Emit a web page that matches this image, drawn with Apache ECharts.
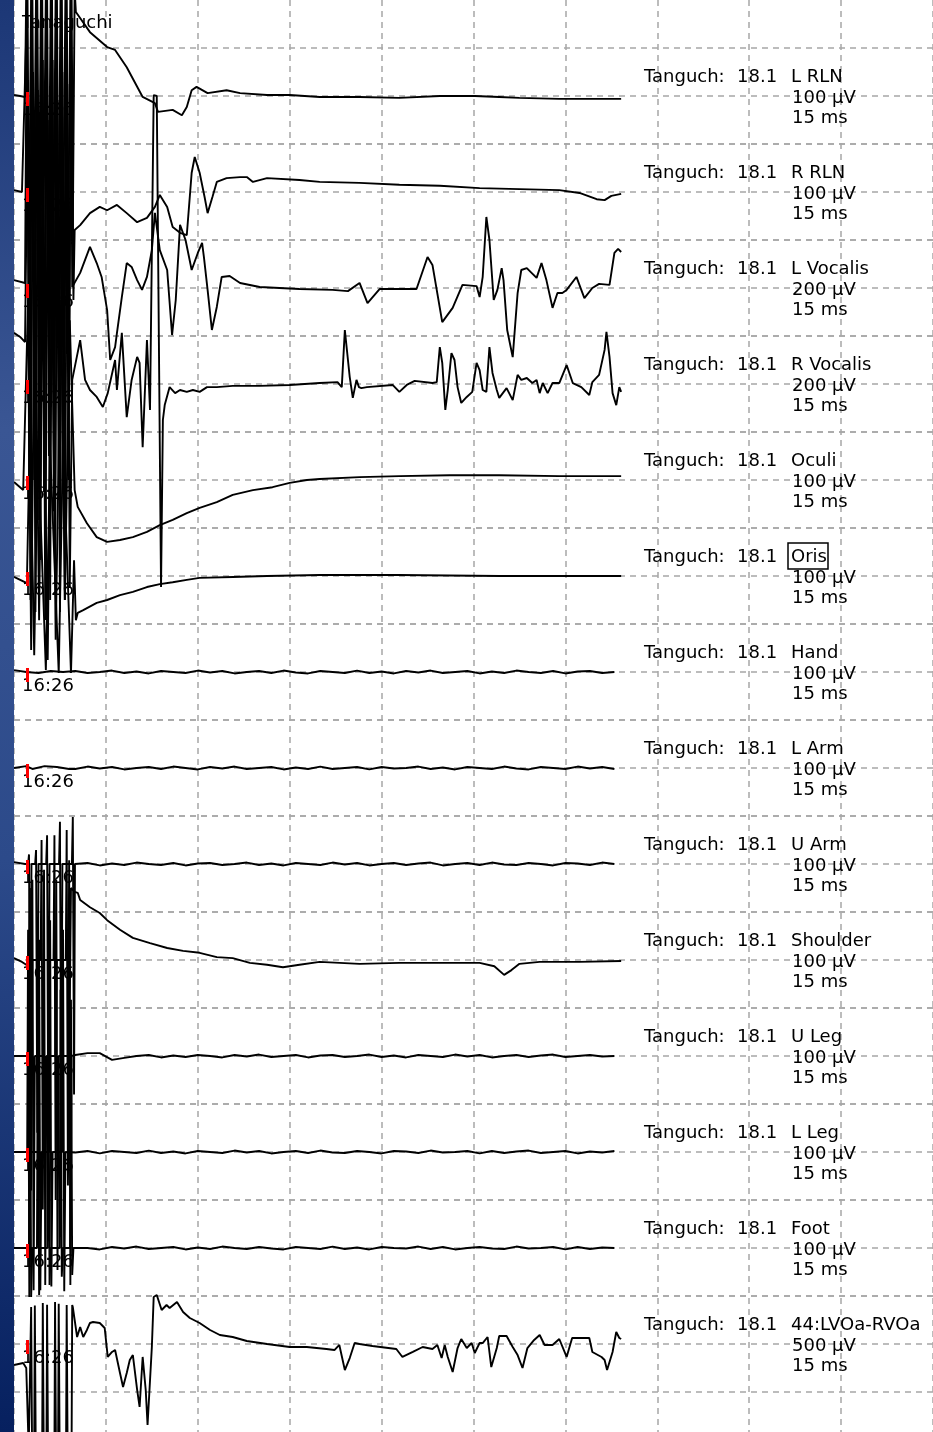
<!DOCTYPE html>
<html><head><meta charset="utf-8">
<script src="https://cdn.jsdelivr.net/npm/echarts@6/dist/echarts.min.js"></script>
<style>html,body{margin:0;padding:0;background:#fff}#c{width:933px;height:1432px}</style>
</head><body><div id="c"></div>
<script>
// ---- labels ----
const PATIENT_NAME = 'Tanguch:';
const PATIENT_ID = '18.1';
const TOP_NAME = 'Tanaguchi';
const TIME_LABEL = '16:26';
const TIMEBASE = '15 ms';
const CHANNEL_NAMES = ['L RLN','R RLN','L Vocalis','R Vocalis','Oculi','Oris','Hand','L Arm','U Arm','Shoulder','U Leg','L Leg','Foot','44:LVOa-RVOa'];
const SENS_UV = [100,100,200,200,100,100,100,100,100,100,100,100,100,500];
const X_TICKS_MS = [0,15,30,45,60,75,90,105,120,135,150];
const STIM_MARK_MS = 2.1;

// ---- traces: [time ms, amplitude µV] ----
const L_RLN = [[0,2],[1.0,0],[1.8,-2],[2.0,221],[2.4,-400],[2.8,221],[3.2,-350],[3.6,221],[4.0,-420],[4.4,221],[4.8,-300],[5.2,221],[5.6,-410],[6.0,221],[6.4,-380],[6.8,221],[7.2,-425],[7.6,221],[8.0,-330],[8.4,221],[8.8,-400],[9.2,221],[9.6,-280],[9.9,221],[10.1,175],[10.4,179],[12.4,133],[15.2,102],[16.5,96],[18.4,60],[21.0,-2],[23.0,-15],[23.5,-33],[25.9,-29],[27.4,-40],[28.2,-23],[29.0,12],[29.8,19],[31.6,6],[34.7,12],[36.9,6],[41.3,2],[45.0,2],[49.9,-2],[56.4,-2],[62.9,-4],[69.5,0],[75.2,0],[79.2,-2],[82.5,-4],[89.0,-6],[95.5,-6],[99.1,-6]];
const R_RLN = [[0,4],[1.3,0],[2.2,421],[2.6,-450],[3.0,421],[3.4,-475],[3.8,421],[4.2,-380],[4.6,421],[5.0,-470],[5.4,421],[5.8,-420],[6.2,421],[6.6,-475],[7.0,421],[7.4,-400],[7.8,421],[8.2,-470],[8.6,421],[9.0,-350],[9.4,421],[9.7,-225],[9.9,-79],[10.8,-69],[12.4,-44],[14.0,-31],[15.2,-38],[16.8,-27],[18.4,-44],[20.1,-63],[21.7,-54],[23.0,-31],[23.8,-6],[25.0,-31],[25.9,-73],[27.1,-85],[28.2,-90],[29.0,40],[29.5,73],[30.3,40],[31.1,-10],[31.6,-44],[32.4,-10],[33.1,21],[34.7,29],[36.9,31],[38.0,31],[39.0,21],[41.3,29],[46.6,25],[49.9,21],[56.4,19],[62.9,15],[69.5,13],[76.0,8],[82.5,6],[89.0,4],[92.3,-2],[95.1,-15],[96.4,-17],[97.5,-8],[99.1,-4]];
const L_VOCALIS = [[0,33],[1.8,21],[2.1,1242],[2.5,-900],[2.9,1242],[3.3,-800],[3.7,1242],[4.1,-967],[4.5,1242],[4.9,-850],[5.3,1242],[5.7,-700],[6.1,1242],[6.5,-930],[6.9,1242],[7.3,-883],[7.7,1242],[8.1,-760],[8.5,1242],[8.9,-800],[9.3,1033],[9.5,4],[10.8,63],[12.4,171],[13.5,104],[14.3,46],[15.2,-92],[15.7,-300],[16.5,-246],[16.8,-188],[17.6,-38],[18.4,104],[19.2,88],[20.1,33],[20.9,-8],[21.7,46],[22.5,158],[23.0,313],[23.8,158],[25.0,75],[25.8,-196],[26.4,-50],[27.1,263],[28.0,200],[29.0,75],[30.0,146],[30.7,188],[31.0,129],[31.6,-8],[32.3,-175],[33.1,-79],[33.9,46],[35.2,50],[36.9,21],[40.1,4],[46.6,-4],[52.0,-8],[54.5,-13],[56.4,21],[57.7,-63],[59.7,-4],[65.7,-4],[67.5,129],[68.3,96],[69.9,-142],[71.6,-83],[73.2,13],[75.5,8],[76.0,-38],[76.5,46],[77.1,296],[77.6,200],[78.3,-50],[78.9,-8],[79.6,83],[79.9,33],[80.5,-175],[81.4,-288],[82.2,-21],[82.8,75],[83.7,83],[85.3,42],[86.1,104],[86.9,33],[87.9,-83],[88.7,-21],[89.5,-21],[90.2,-8],[91.8,46],[93.1,-42],[94.4,0],[95.5,17],[97.2,13],[98.0,146],[98.6,163],[99.1,150]];
const R_VOCALIS = [[0,213],[1.0,196],[1.8,175],[2.3,1267],[2.7,-900],[3.1,1300],[3.5,-950],[3.9,1225],[4.3,-733],[4.7,1350],[5.1,-983],[5.5,1100],[5.9,-900],[6.3,1350],[6.7,-817],[7.1,1183],[7.5,-950],[7.9,1300],[8.3,-900],[8.7,1250],[9.1,-850],[9.5,17],[10.8,183],[11.6,17],[12.4,-25],[13.5,-54],[14.5,-96],[15.3,-38],[16.5,100],[16.8,-25],[17.6,213],[18.4,-138],[19.2,17],[20.1,113],[20.5,88],[21.0,-263],[21.7,183],[22.2,-108],[22.8,1204],[23.3,1200],[24.0,-846],[24.3,-150],[24.6,-88],[25.4,-13],[26.3,-38],[27.1,-25],[28.2,-33],[29.2,-25],[30.3,-33],[31.5,-13],[33.1,-13],[35.7,-8],[40.1,-8],[45.0,-4],[49.9,4],[52.8,8],[53.5,-13],[54.0,225],[54.3,225],[54.8,29],[55.3,-58],[55.9,17],[56.3,-13],[56.7,-17],[57.6,-13],[61.8,-4],[62.9,-33],[64.1,-4],[65.4,13],[68.3,4],[69.0,8],[69.5,154],[69.9,88],[70.4,-108],[70.8,-25],[71.4,129],[71.9,100],[72.4,-13],[73.0,-79],[73.9,-54],[74.8,-33],[75.5,88],[76.0,58],[76.5,-25],[77.1,-33],[77.6,154],[78.1,46],[78.8,-25],[79.2,-58],[80.4,-17],[81.4,-67],[82.2,38],[82.8,17],[83.7,25],[84.6,4],[85.3,17],[85.8,-38],[86.3,4],[87.1,-38],[87.9,4],[89.0,4],[90.2,79],[91.2,4],[92.6,-13],[93.9,-46],[94.4,8],[95.5,38],[96.4,142],[96.7,217],[97.2,113],[97.7,-38],[98.3,-88],[98.8,-13],[99.1,-33]];
const OCULI = [[0,-4],[1.5,-21],[2.3,375],[2.8,-354],[3.4,479],[4.1,-292],[4.7,417],[5.5,-375],[6.2,458],[6.8,-333],[7.7,375],[8.3,-250],[9.1,333],[9.9,-21],[10.4,-56],[11.9,-90],[13.5,-119],[15.2,-129],[17.3,-125],[19.4,-119],[21.7,-108],[23.8,-94],[25.9,-83],[28.2,-69],[30.3,-58],[33.1,-46],[35.7,-31],[39.0,-21],[42.2,-15],[45.0,-6],[47.8,0],[49.9,2],[56.4,6],[62.9,8],[71.1,10],[79.2,10],[89.0,8],[99.1,8]];
const ORIS = [[0,-2],[2.1,-15],[2.6,304],[3.3,-165],[3.9,283],[5.2,-196],[5.9,263],[7.3,-202],[8.0,283],[9.3,-202],[9.8,33],[10.1,-92],[10.4,-77],[11.3,-71],[13.5,-56],[15.2,-50],[17.3,-40],[19.4,-33],[21.7,-23],[23.8,-17],[25.9,-13],[28.2,-8],[30.3,-4],[35.7,-2],[41.3,0],[49.9,2],[62.9,2],[79.2,0],[99.1,0]];
const SHOULDER = [[0,4],[1.3,-4],[2.0,-10],[2.45,-10],[2.6,150],[2.8,-480],[3.0,0],[4.35,0],[4.5,250],[4.7,-520],[4.9,0],[6.45,0],[6.6,260],[6.8,-500],[7.0,0],[8.45,0],[8.6,271],[8.8,-470],[9.3,150],[9.9,142],[10.4,140],[10.8,125],[12.4,110],[14.0,98],[15.2,83],[17.3,63],[19.4,46],[22.2,35],[25.0,25],[27.6,19],[30.3,15],[33.1,6],[35.7,4],[38.5,-6],[41.3,-10],[43.9,-15],[46.6,-10],[49.9,-4],[56.4,-8],[62.9,-6],[69.5,-6],[76.0,-6],[78.4,-13],[80.0,-31],[81.2,-21],[82.5,-8],[85.8,-4],[92.3,-4],[99.1,-2]];
const LVOA_RVOA = [[0,-219],[1.5,-198],[2.0,-250],[2.4,-1100],[2.7,-1100],[2.8,385],[2.95,-1100],[3.3,-1100],[3.4,400],[3.55,-1100],[4.6,-1100],[4.7,427],[4.85,-1100],[5.3,-1100],[5.4,410],[5.55,-1100],[6.6,-1100],[6.7,438],[6.85,-1100],[7.2,-1100],[7.3,420],[7.45,-1100],[8.5,-1100],[8.6,406],[8.75,-1100],[9.4,-1100],[9.5,406],[9.6,385],[10.3,73],[10.8,177],[11.3,73],[11.9,146],[12.4,219],[12.9,229],[14.0,219],[14.8,167],[15.3,-135],[16.0,-83],[16.5,-63],[17.3,-302],[17.8,-448],[18.4,-302],[18.9,-167],[19.4,-115],[20.1,-479],[20.5,-656],[21.0,-135],[21.5,-479],[21.8,-844],[22.5,-31],[22.8,490],[23.3,510],[24.1,354],[24.9,406],[25.4,375],[26.6,438],[27.6,333],[28.7,271],[30.3,219],[32.0,146],[33.6,94],[35.7,73],[38.0,31],[41.3,0],[45.0,-31],[47.8,-31],[51.0,-52],[52.3,-63],[53.1,-10],[54.0,-271],[54.8,-146],[55.6,10],[56.4,0],[58.5,-21],[62.4,-52],[63.4,-135],[65.1,-83],[66.7,-31],[68.3,-52],[69.1,-10],[69.8,-146],[70.3,-10],[70.8,-135],[71.6,-292],[72.4,-42],[73.0,52],[73.9,-42],[74.7,10],[75.2,-94],[76.0,10],[76.5,10],[77.3,73],[77.9,-240],[78.8,-42],[79.2,83],[80.4,83],[81.4,-31],[82.2,-115],[83.0,-250],[83.8,-42],[84.9,42],[85.8,94],[86.6,-10],[87.9,-10],[89.0,52],[90.2,-135],[91.1,63],[93.9,63],[94.4,-83],[95.9,-135],[96.4,-167],[96.8,-271],[97.7,-83],[98.3,125],[98.8,63],[99.1,52]];

// quiet channels: stimulus part, then baseline samples every 2 ms
const HAND_HEAD = [[0,4],[2,0],[4,-2],[6,2],[8,0]];
const L_ARM_HEAD = [[0,0],[2,4],[3,-2],[5,4],[7,2],[9,-2]];
const U_ARM_HEAD = [[0,4],[1.8,0],[2.3,0],[2.45,20],[2.65,-500],[2.85,0],[3.45,0],[3.6,29],[3.8,-560],[4.0,0],[5.25,0],[5.4,60],[5.6,-600],[5.8,0],[7.35,0],[7.5,88],[7.7,-560],[7.9,0],[9.45,0],[9.6,98],[9.8,-480],[9.95,0]];
const U_LEG_HEAD = [[0,0],[2.85,0],[3.0,367],[3.2,-488],[3.4,0],[4.75,0],[4.9,388],[5.1,-477],[5.3,0],[6.75,0],[6.9,367],[7.1,-446],[7.3,0],[8.85,0],[9.0,408],[9.2,-477],[9.4,0]];
const L_LEG_HEAD = [[0,0],[2.15,0],[2.3,463],[2.5,-302],[2.7,0],[3.95,0],[4.1,442],[4.3,-288],[4.5,0],[5.75,0],[5.9,483],[6.1,-280],[6.3,0],[7.85,0],[8.0,463],[8.2,-290],[8.4,0]];
const FOOT_HEAD = [[0,0],[2.45,0],[2.6,517],[2.8,-102],[3.0,0],[3.75,0],[3.9,538],[4.1,-98],[4.3,0],[5.45,0],[5.6,517],[5.8,-77],[6.0,0],[7.45,0],[7.6,538],[7.8,-60],[8.0,0],[9.15,0],[9.3,517],[9.5,-56],[9.7,0]];
const QUIET_T = [10,12,14,16,18,20,22,24,26,28,30,32,34,36,38,40,42,44,46,48,50,52,54,56,58,60,62,64,66,68,70,72,74,76,78,80,82,84,86,88,90,92,94,96,98];
const HAND_V  = [2,-2,0,3,-2, 1,-3,2,0,-2, 3,-1,2,-3,0, 2,-2,3,-1,-3, 2,0,-2,3,-2, 1,-3,2,-1,3, -2,0,2,-3,1, -2,3,0,-2,2, -3,1,2,-2,0];
const L_ARM_V = [-2,3,-1,2,-3, 0,2,-2,3,0, -3,2,-1,3,-2, 0,2,-3,1,-2, 3,-2,0,2,-3, 2,-1,0,3,-2, 1,-3,2,0,-2, 3,-1,-3,2,0, -2,3,-1,2,-2];
const U_ARM_V = [0,2,-3,1,-2, 3,0,-2,2,-3, 1,2,-2,0,3, -2,1,-3,2,0, -2,3,-1,2,-3, 0,2,-2,1,3, -3,0,2,-2,3, -1,-2,2,0,-3, 2,1,-2,3,0];
const U_LEG_V = [2,6,6,-8,-4, 0,2,-3,1,-2, 2,0,-3,2,-1, 3,-2,0,2,-3, 1,2,-2,0,3, -2,1,-3,2,0, -2,3,-1,2,-3, 0,2,-2,1,3, -2,0,2,-1,0];
const L_LEG_V = [-1,2,-3,2,0, -2,3,-2,1,-3, 2,0,-2,3,-1, 2,-3,0,2,-2, 3,-1,-2,2,0, -3,2,1,-2,3, -1,0,2,-3,2, -2,1,3,-2,0, 2,-3,1,-1,2];
const FOOT_V  = [2,0,-3,2,-1, 3,-2,0,2,-3, 1,-2,3,0,-2, 2,-1,-3,2,0, -2,3,-2,1,-3, 2,0,-1,3,-2, 2,-3,0,2,-1, -2,3,-1,0,2, -3,2,-2,1,0];

function quiet(head, vals){ return head.concat(QUIET_T.map((t,k)=>[t, vals[k]])); }

const TRACES = [L_RLN, R_RLN, L_VOCALIS, R_VOCALIS, OCULI, ORIS,
  quiet(HAND_HEAD, HAND_V), quiet(L_ARM_HEAD, L_ARM_V), quiet(U_ARM_HEAD, U_ARM_V),
  SHOULDER, quiet(U_LEG_HEAD, U_LEG_V), quiet(L_LEG_HEAD, L_LEG_V), quiet(FOOT_HEAD, FOOT_V), LVOA_RVOA];

// ---- layout ----
const LEFT = 14, WIDTH = 920, ROW = 96, HALF = 48;
const FONT = '18px "DejaVu Sans"';
const gridStyle = {color:'#a6a6a6', width:1.5, type:[6,5]};

const grids = [{left:LEFT, top:0, width:WIDTH, height:1432}];
const xAxes = [{gridIndex:0, type:'value', min:X_TICKS_MS[0], max:X_TICKS_MS[X_TICKS_MS.length-1], interval:15,
  axisLine:{show:false}, axisTick:{show:false}, axisLabel:{show:false}, splitLine:{show:true, lineStyle:gridStyle}}];
const yAxes = [{gridIndex:0, type:'value', min:0, max:1, show:false}];
const series = [];
const graphic = [];

graphic.push({type:'rect', z:100, shape:{x:0,y:0,width:LEFT,height:1432},
  style:{fill:{type:'linear',x:0,y:0,x2:0,y2:1,colorStops:[
    {offset:0,color:'#1c3776'},{offset:0.3,color:'#3a5694'},{offset:0.6,color:'#2c4a8a'},{offset:1,color:'#06205f'}]}}});
graphic.push({type:'text', z:1, x:22, y:23, style:{text:TOP_NAME, font:FONT, fill:'#000', verticalAlign:'middle'}});

function label(x, y, text, z){
  return {type:'text', z:z, x:x, y:y, style:{text:text, font:FONT, fill:'#000', verticalAlign:'middle'}};
}

CHANNEL_NAMES.forEach((name, i) => {
  const s = SENS_UV[i];
  const base = ROW*(i+1);
  const gi = i+1;
  grids.push({left:LEFT, width:WIDTH, top:base-HALF, height:2*HALF});
  xAxes.push({gridIndex:gi, type:'value', min:0, max:150, show:false});
  yAxes.push({gridIndex:gi, type:'value', min:-s, max:s, interval:s,
    axisLine:{show:false}, axisTick:{show:false}, axisLabel:{show:false},
    splitLine:{show:true, lineStyle:gridStyle}});
  series.push({type:'line', name:name, xAxisIndex:gi, yAxisIndex:gi, data:TRACES[i],
    showSymbol:false, symbol:'none', clip:false, silent:true, animation:false,
    emphasis:{disabled:true},
    lineStyle:{color:'#000', width:1.9},
    markLine:{silent:true, symbol:['none','none'], label:{show:false}, animation:false,
      lineStyle:{color:'#ff0000', width:3, type:'solid'},
      data:[[{coord:[STIM_MARK_MS, s*4/HALF]},{coord:[STIM_MARK_MS, -s*10/HALF]}]]}});
  graphic.push(label(22, base+14, TIME_LABEL, 1));
  graphic.push(label(644, base-19, PATIENT_NAME, 50));
  graphic.push(label(737, base-19, PATIENT_ID, 50));
  graphic.push(label(791, base-19, name, 50));
  graphic.push(label(792, base+2, s+' µV', 50));
  graphic.push(label(792, base+22, TIMEBASE, 50));
  if (name === 'Oris') {
    graphic.push({type:'rect', z:50, shape:{x:788, y:base-33, width:40, height:26},
      style:{fill:'none', stroke:'#000', lineWidth:1.5}});
  }
});

const chart = echarts.init(document.getElementById('c'), null, {renderer:'canvas'});
chart.setOption({
  animation:false,
  backgroundColor:'#ffffff',
  grid:grids, xAxis:xAxes, yAxis:yAxes, series:series, graphic:graphic
});
</script></body></html>
